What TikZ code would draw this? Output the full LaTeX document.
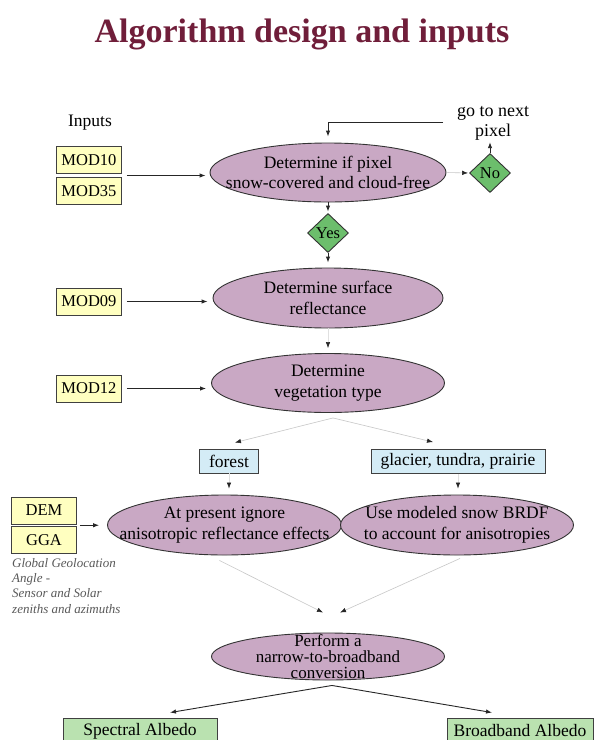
\documentclass[tikz,border=0pt]{standalone}
\usepackage{fontspec}
\setmainfont{Liberation Serif}
\usetikzlibrary{shapes.geometric,arrows.meta,calc}
\definecolor{titlecol}{RGB}{112,30,58}
\definecolor{ellfill}{RGB}{201,168,196}
\definecolor{diafill}{RGB}{108,190,108}
\definecolor{yelfill}{RGB}{255,255,192}
\definecolor{bluefill}{RGB}{212,236,246}
\definecolor{grnfill}{RGB}{186,226,176}
\begin{document}
\begin{tikzpicture}[x=1pt,y=-1pt,
  ell/.style={ellipse, draw=black!80, fill=ellfill, line width=0.9pt, inner sep=0pt},
  etext/.style={align=center, inner sep=0pt, font=\fontsize{17.5}{20.5}\selectfont},
  inbox/.style={draw=black!75, fill=yelfill, line width=0.9pt, inner sep=0pt,
    minimum width=65pt, minimum height=27pt, font=\fontsize{16.5}{20}\selectfont},
  vegbox/.style={draw=black!75, fill=bluefill, line width=0.9pt, inner sep=0pt,
    minimum height=24pt, font=\fontsize{17.5}{20}\selectfont},
  outbox/.style={draw=black!75, fill=grnfill, line width=0.9pt, inner sep=0pt,
    minimum height=26pt, font=\fontsize{17.5}{20}\selectfont},
  dia/.style={diamond, draw=black!80, fill=diafill, line width=0.9pt, inner sep=0pt,
    minimum width=41pt, minimum height=39pt, font=\fontsize{16.5}{20}\selectfont},
  arr/.style={draw=black!85, line width=0.9pt, -{Latex[length=6pt,width=4.5pt]}},
  farr/.style={draw=black!22, line width=0.6pt, -{Latex[length=6pt,width=4.5pt,color=black!85]}},
  plain/.style={font=\fontsize{17.5}{20}\selectfont, align=center, inner sep=1pt}
]
\useasboundingbox (0,0) rectangle (595,740);
\fill[white] (0,0) rectangle (595,740);

% title
\node[anchor=base, text=titlecol, font=\fontsize{34}{40}\selectfont\bfseries] (title) at (302,42) {Algorithm design and inputs};

% inputs column
\node[plain] (inputs) at (90,123) {Inputs};
\node[inbox] (m10) at (89,160) {MOD10};
\node[inbox] (m35) at (89,191) {MOD35};
\node[inbox] (m09) at (89,301.5) {MOD09};
\node[inbox] (m12) at (89,388.5) {MOD12};
\node[inbox] (dem) at (44,510.5) {DEM};
\node[inbox] (gga) at (44,540) {GGA};
\node[anchor=north west, align=left, inner sep=0pt, text=black!65,
  font=\fontsize{13}{15.3}\selectfont\itshape] (cap) at (12,558)
  {Global Geolocation\\Angle -\\Sensor and Solar\\zeniths and azimuths};

% process ellipses
\node[ell, minimum width=236pt, minimum height=59pt] (e1) at (328,172.5) {};
\node[etext] (e1t) at (e1) {Determine if pixel\\snow-covered and cloud-free};
\node[ell, minimum width=230pt, minimum height=60pt] (e2) at (328,298) {};
\node[etext] (e2t) at (e2) {Determine surface\\reflectance};
\node[ell, minimum width=233pt, minimum height=59pt] (e3) at (328,383) {};
\node[etext] (e3t) at (e3) {Determine\\vegetation type};
\node[ell, minimum width=234pt, minimum height=60pt] (e4) at (224.5,525) {};
\node[etext] (e4t) at (e4) {At present ignore\\anisotropic reflectance effects};
\node[ell, minimum width=233pt, minimum height=60pt] (e5) at (457,525) {};
\node[etext] (e5t) at (e5) {Use modeled snow BRDF\\to account for anisotropies};
\node[ell, minimum width=233pt, minimum height=47pt] (e6) at (328,656.5) {};
\node[etext, font=\fontsize{17}{16}\selectfont] (e6t) at (e6) {Perform a\\narrow-to-broadband\\conversion};

% decisions
\node[dia] (no) at (490,173) {No};
\node[dia] (yes) at (328,233) {Yes};
\node[plain, font=\fontsize{18}{20}\selectfont] (go) at (493,123) {go to next\\pixel};

% vegetation classes
\node[vegbox, minimum width=59pt] (forest) at (229,461) {forest};
\node[vegbox, minimum width=174pt] (glacier) at (458,461.5) {glacier, tundra, prairie};

% outputs
\node[outbox, minimum width=154pt] (spec) at (140,731) {Spectral Albedo};
\node[outbox, minimum width=146pt] (broad) at (520,731) {Broadband Albedo};

% connectors
\coordinate (inA) at ($(m10.south east)!0.5!(m35.north east)$);
\draw[arr, shorten <=5pt, shorten >=4pt] (inA) -- (inA -| e1.west);
\draw[arr, shorten <=5pt, shorten >=5pt] (m09.east) -- (m09.east -| e2.west);
\draw[arr, shorten <=5pt, shorten >=5pt] (m12.east) -- (m12.east -| e3.west);
\coordinate (dg) at ($(dem.south east)!0.5!(gga.north east)$);
\draw[arr, shorten <=3pt, shorten >=8pt] (dg) -- (dg -| e4.west);

\coordinate (loopA) at (443,122);
\draw[arr, shorten >=6pt] (loopA) -| (e1.north);
\draw[farr, shorten <=1pt, shorten >=1pt] (e1.east) -- (no.west);
\draw[arr, shorten >=1pt] (no.north) -- (no.north |- go.south);
\draw[arr, shorten >=1.5pt] (e1.south) -- (yes.north);
\draw[arr, shorten >=5pt] (yes.south) -- (e2.north);
\draw[farr, draw=black!12, shorten >=5pt] (e2.south) -- (e3.north);
\draw[farr] ($(e3.south)+(5,5)$) -- ($(forest.north)+(6,-6)$);
\draw[farr] ($(e3.south)+(5,5)$) -- ($(glacier.north)+(-25,-7)$);
\draw[farr, draw=black!12, shorten >=6pt] (forest.south) -- (forest.south |- e4.north);
\draw[farr, draw=black!12, shorten >=6pt] (glacier.south) -- (glacier.south |- e5.north);
\draw[farr] ($(e4.south)+(-5,5)$) -- ($(e6.north)+(-5,-20)$);
\draw[farr] ($(e5.south)+(3,3)$) -- ($(e6.north)+(12,-20)$);
\draw[arr] ($(e6.south)+(4,5)$) -- ($(spec.north)+(30,-5)$);
\draw[arr] ($(e6.south)+(4,5)$) -- ($(broad.north)+(-28,-5)$);
\end{tikzpicture}
\end{document}
